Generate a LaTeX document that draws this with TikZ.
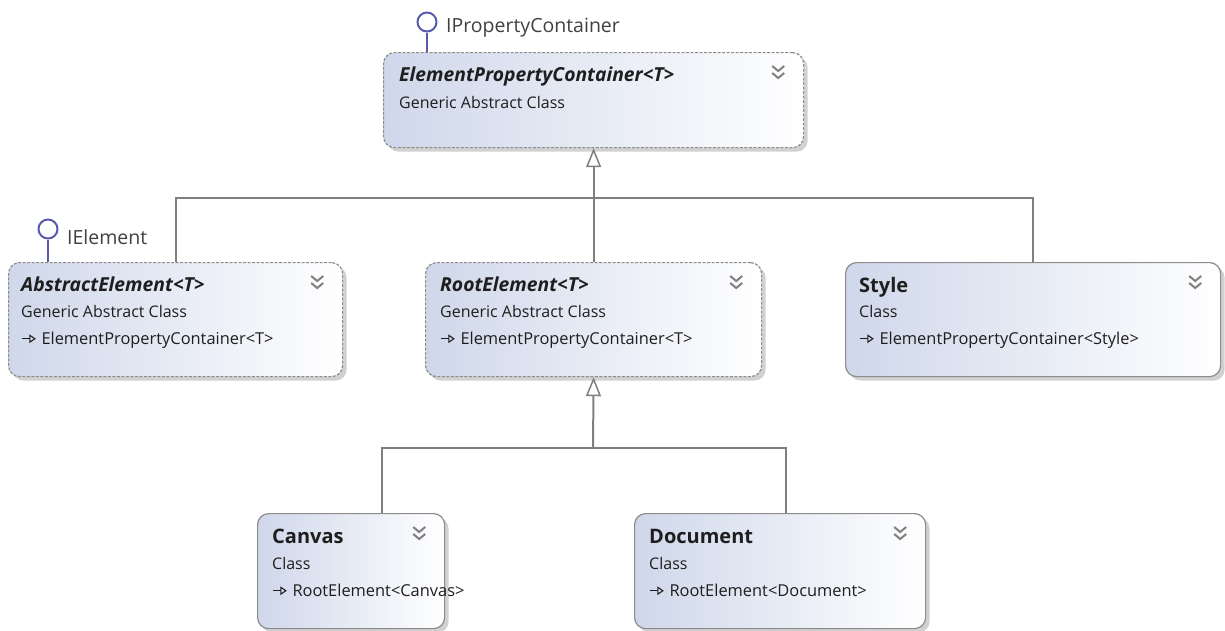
\documentclass[tikz,border=0pt]{standalone}
\usepackage{fontspec}
\setmainfont{Open Sans}
\usetikzlibrary{arrows.meta,shadows,calc}

\definecolor{frame}{HTML}{8C8C8C}
\definecolor{boxblue}{HTML}{CFD7EA}
\definecolor{wire}{HTML}{7F7F7F}
\definecolor{lolli}{HTML}{5B5BAE}
\definecolor{ink}{HTML}{1E1E1E}

\tikzset{
  classbox/.style={draw=frame, line width=1.2pt, rounded corners=11pt, anchor=north west,
    left color=boxblue, right color=white, inner sep=0pt,
    drop shadow={shadow xshift=4pt, shadow yshift=-4pt, fill=black!30, opacity=0.6}},
  abstractbox/.style={classbox, dashed, dash pattern=on 3pt off 1.5pt},
  titletext/.style={anchor=base west, inner sep=0pt, font=\fontsize{19}{22}\selectfont\bfseries, text=ink},
  smalltext/.style={anchor=base west, inner sep=0pt, font=\fontsize{16}{19}\selectfont, text=ink},
  inhtext/.style={smalltext, font=\fontsize{16.4}{19}\selectfont},
  wireline/.style={draw=wire, line width=2pt},
  genarrow/.style={wireline, -{Triangle[open, length=19pt, width=15pt, line width=1.5pt, fill=white]}},
  lollipop/.style={draw=lolli, line width=2pt},
  ifacetext/.style={anchor=base west, inner sep=0pt, font=\fontsize{19.5}{23}\selectfont, text=black!75},
  chevron/.style={draw=black!50, line width=2pt}
}

% open-headed inheritance marker used in front of a base type
\newcommand{\inhmark}{\tikz[baseline=-0.6ex, x=1pt, y=1pt]\draw[line width=1.3pt, ink,
  -{Triangle[open, length=6.5pt, width=8.5pt, line width=1.1pt]}] (0,0) -- (14,0);\hspace{5pt}}

% double chevron in the top right corner of a class box
\newcommand{\chev}[1]{%
  \draw[chevron] ($(#1.north east)+(-32,14)$) -- ++(6,5) -- ++(6,-5);
  \draw[chevron] ($(#1.north east)+(-32,21)$) -- ++(6,5) -- ++(6,-5);}

\begin{document}
\begin{tikzpicture}[x=1pt, y=-1pt]
\useasboundingbox (0,0) rectangle (1225,630);

% class boxes
\node[abstractbox, minimum width=420, minimum height=95] (epc) at (383,52) {};
\node[abstractbox, minimum width=334, minimum height=114] (ae) at (8,262) {};
\node[abstractbox, minimum width=336, minimum height=114] (re) at (425,262) {};
\node[classbox, minimum width=375, minimum height=114] (sty) at (845,262) {};
\node[classbox, minimum width=187, minimum height=115] (cv) at (257,513) {};
\node[classbox, minimum width=291, minimum height=115] (doc) at (634,513) {};

% texts of the boxes
\node[titletext, font=\fontsize{19.3}{22}\selectfont\bfseries\itshape] (epct) at ($(epc.north west)+(16,29)$) {ElementPropertyContainer<T>};
\node[smalltext] (epcs) at ($(epc.north west)+(16,56)$) {Generic Abstract Class};

\node[titletext, font=\fontsize{19.3}{22}\selectfont\bfseries\itshape] (aet) at ($(ae.north west)+(13,29)$) {AbstractElement<T>};
\node[smalltext] (aes) at ($(ae.north west)+(13,55)$) {Generic Abstract Class};
\node[inhtext] (aei) at ($(ae.north west)+(13,82)$) {\inhmark ElementPropertyContainer<T>};

\node[titletext, font=\fontsize{19.3}{22}\selectfont\bfseries\itshape] (ret) at ($(re.north west)+(15,29)$) {RootElement<T>};
\node[smalltext] (res) at ($(re.north west)+(15,55)$) {Generic Abstract Class};
\node[inhtext] (rei) at ($(re.north west)+(15,82)$) {\inhmark ElementPropertyContainer<T>};

\node[titletext, font=\fontsize{20}{24}\selectfont\bfseries] (styt) at ($(sty.north west)+(14,30)$) {Style};
\node[smalltext] (stys) at ($(sty.north west)+(14,55)$) {Class};
\node[inhtext] (styi) at ($(sty.north west)+(14,82)$) {\inhmark ElementPropertyContainer<Style>};

\node[titletext, font=\fontsize{20}{24}\selectfont\bfseries] (cvt) at ($(cv.north west)+(15,30)$) {Canvas};
\node[smalltext] (cvs) at ($(cv.north west)+(15,56)$) {Class};
\node[inhtext] (cvi) at ($(cv.north west)+(15,83)$) {\inhmark RootElement<Canvas>};

\node[titletext, font=\fontsize{20}{24}\selectfont\bfseries] (doct) at ($(doc.north west)+(15,30)$) {Document};
\node[smalltext] (docs) at ($(doc.north west)+(15,56)$) {Class};
\node[inhtext] (doci) at ($(doc.north west)+(15,83)$) {\inhmark RootElement<Document>};

% collapse chevrons
\chev{epc}
\chev{ae}
\chev{re}
\chev{sty}
\chev{cv}
\chev{doc}

% generalization: first level
\coordinate (j1) at (593,198);
\draw[wireline] (ae.north) |- (j1);
\draw[wireline] (sty.north) |- (j1);
\draw[genarrow] (re.north) -- (epc.south);

% generalization: second level
\coordinate (j2) at (593,448);
\coordinate (cvtop) at (382,513);
\coordinate (doctop) at (786,513);
\draw[wireline] (cvtop) |- (j2);
\draw[wireline] (doctop) |- (j2);
\draw[genarrow] (j2) -- (re.south);

% implemented interfaces
\node[circle, lollipop, minimum size=19, inner sep=0pt] (ipc) at (427,22) {};
\coordinate (ipcfoot) at (427,52);
\draw[lollipop] (ipc.south) -- (ipcfoot);
\node[ifacetext] (ipcl) at (446,32) {IPropertyContainer};

\node[circle, lollipop, minimum size=19, inner sep=0pt] (iel) at (48,229) {};
\coordinate (ielfoot) at (48,262);
\draw[lollipop] (iel.south) -- (ielfoot);
\node[ifacetext] (iell) at (67,244) {IElement};
\end{tikzpicture}
\end{document}
